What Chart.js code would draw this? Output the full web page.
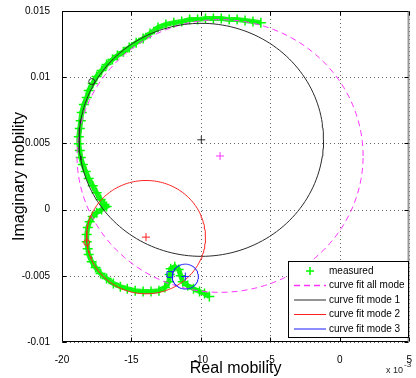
<!DOCTYPE html>
<html>
<head>
<meta charset="utf-8">
<script src="https://cdn.jsdelivr.net/npm/chart.js@4.4.1/dist/chart.umd.min.js"></script>
<style>
  html, body { margin: 0; padding: 0; background: #fff; }
</style>
</head>
<body>
<canvas id="nyquist" width="416" height="378"></canvas>
<script>
// Measured mobility (real / imaginary)
const measuredRe = [
  -0.00568, -0.00625, -0.00682, -0.00739, -0.00796, -0.00853, -0.00910, -0.00967,
  -0.01024, -0.01081, -0.01138, -0.01195, -0.01252, -0.01309, -0.01366, -0.01416,
  -0.01466, -0.01516, -0.01558, -0.01601, -0.01637, -0.01679, -0.01715, -0.01751,
  -0.01779, -0.01808, -0.01822, -0.01843, -0.01858, -0.01865, -0.01872, -0.01879,
  -0.01879, -0.01872, -0.01865, -0.01850, -0.01829, -0.01808, -0.01779, -0.01751,
  -0.01722, -0.01694, -0.01679, -0.01715, -0.01751, -0.01779, -0.01801, -0.01815,
  -0.01822, -0.01822, -0.01815, -0.01808, -0.01786, -0.01758, -0.01722, -0.01679,
  -0.01630, -0.01580, -0.01530, -0.01473, -0.01416, -0.01359, -0.01302, -0.01259,
  -0.01231, -0.01224, -0.01217, -0.01188, -0.01160, -0.01145, -0.01131, -0.01095,
  -0.01053, -0.01010, -0.00974, -0.00939
];
const measuredIm = [
  0.01412, 0.01420, 0.01428, 0.01435, 0.01435, 0.01443, 0.01443, 0.01443,
  0.01435, 0.01435, 0.01420, 0.01412, 0.01398, 0.01375, 0.01330, 0.01292,
  0.01261, 0.01224, 0.01193, 0.01163, 0.01133, 0.01095, 0.01050, 0.01005,
  0.00952, 0.00899, 0.00846, 0.00793, 0.00733, 0.00672, 0.00612, 0.00551,
  0.00498, 0.00446, 0.00393, 0.00340, 0.00287, 0.00234, 0.00181, 0.00128,
  0.00076, 0.00038, 0.00023, 0.00000, -0.00023, -0.00053, -0.00091, -0.00136,
  -0.00189, -0.00242, -0.00295, -0.00340, -0.00393, -0.00438, -0.00483, -0.00521,
  -0.00559, -0.00582, -0.00597, -0.00612, -0.00619, -0.00619, -0.00612, -0.00589,
  -0.00544, -0.00491, -0.00446, -0.00431, -0.00453, -0.00499, -0.00544, -0.00574,
  -0.00597, -0.00619, -0.00634, -0.00657
];

// Circle fits: centre and radius of each fitted modal circle
const fitNames = ['curve fit all mode', 'curve fit mode 1', 'curve fit mode 2', 'curve fit mode 3'];
const fitColors = ['#ff33ff', '#2a2a2a', '#ff2020', '#1a1aff'];
const fitCenterRe = [-0.00862, -0.00997, -0.01395, -0.01112];
const fitCenterIm = [0.00405, 0.00527, -0.00208, -0.00506];
const fitRadius = [0.0103, 0.0088, 0.00428, 0.00094];

// Extra single markers
const markRe = [-0.01786, -0.01822, -0.01224];
const markIm = [0.00967, -0.00249, -0.00490];
const markColors = ['#2a2a2a', '#ff2020', '#1a1aff'];
const markStyles = ['circle', 'circle', 'rect'];

// Axis ticks
const xTicks = [-0.020, -0.015, -0.010, -0.005, 0, 0.005];
const yTicks = [-0.010, -0.005, 0, 0.005, 0.010, 0.015];

const legendNames = ['measured'].concat(fitNames);
const FONT = '"Liberation Sans", Arial, sans-serif';

function circlePoints(cx, cy, r) {
  const pts = [];
  for (let a = 0; a <= 360; a += 2) {
    const t = a * Math.PI / 180;
    pts.push({ x: cx + r * Math.cos(t), y: cy + r * Math.sin(t) });
  }
  return pts;
}

const datasets = [];

datasets.push({
  label: 'measured',
  data: measuredRe.map((v, i) => ({ x: v, y: measuredIm[i] })),
  showLine: true,
  borderColor: '#22f022',
  borderWidth: 5,
  pointStyle: 'cross',
  pointRadius: 5,
  pointBorderWidth: 1.5,
  pointBorderColor: '#00ff00',
  order: 20
});

fitNames.forEach((name, i) => {
  datasets.push({
    label: name,
    data: circlePoints(fitCenterRe[i], fitCenterIm[i], fitRadius[i]),
    showLine: true,
    borderColor: fitColors[i],
    borderWidth: 1,
    borderDash: i === 0 ? [6, 4] : [],
    pointRadius: 0,
    order: 10 - i
  });
  // centre marker
  datasets.push({
    label: name + ' centre',
    data: [{ x: fitCenterRe[i], y: fitCenterIm[i] }],
    pointStyle: 'cross',
    pointRadius: 4,
    pointBorderWidth: 1,
    pointBorderColor: fitColors[i],
    order: 1
  });
});

markRe.forEach((v, i) => {
  datasets.push({
    label: 'marker ' + i,
    data: [{ x: v, y: markIm[i] }],
    pointStyle: markStyles[i],
    pointRadius: markStyles[i] === 'rect' ? 4 : 3,
    pointBorderWidth: 1,
    pointBorderColor: markColors[i],
    pointBackgroundColor: 'rgba(0,0,0,0)',
    order: 0
  });
});

// grid, box, legend and axis titles in the MATLAB look
const matlabFrame = {
  id: 'matlabFrame',
  beforeDatasetsDraw(chart) {
    const { ctx, chartArea: a, scales: { x, y } } = chart;
    ctx.save();
    ctx.strokeStyle = '#666';
    ctx.lineWidth = 1;
    ctx.setLineDash([1, 3]);
    xTicks.forEach(v => {
      const px = Math.round(x.getPixelForValue(v)) + 0.5;
      ctx.beginPath(); ctx.moveTo(px, a.top); ctx.lineTo(px, a.bottom); ctx.stroke();
    });
    yTicks.forEach(v => {
      const py = Math.round(y.getPixelForValue(v)) + 0.5;
      ctx.beginPath(); ctx.moveTo(a.left, py); ctx.lineTo(a.right, py); ctx.stroke();
    });
    ctx.restore();
  },
  afterDraw(chart) {
    const { ctx, chartArea: a, scales: { x, y } } = chart;
    ctx.save();
    // box
    ctx.strokeStyle = '#000';
    ctx.lineWidth = 1;
    const L = Math.round(a.left) + 0.5, T = Math.round(a.top) + 0.5;
    const R = Math.round(a.right) - 0.5, B = Math.round(a.bottom) - 0.5;
    ctx.beginPath();
    ctx.moveTo(R, T); ctx.lineTo(L, T); ctx.lineTo(L, B); ctx.lineTo(R, B);
    ctx.stroke();
    ctx.strokeStyle = '#999';
    ctx.lineWidth = 2;
    ctx.beginPath(); ctx.moveTo(R, T); ctx.lineTo(R, B); ctx.stroke();
    // inner tick marks
    ctx.strokeStyle = '#000';
    ctx.lineWidth = 1;
    xTicks.forEach(v => {
      const px = Math.round(x.getPixelForValue(v)) + 0.5;
      ctx.beginPath(); ctx.moveTo(px, B); ctx.lineTo(px, B - 4); ctx.stroke();
      ctx.beginPath(); ctx.moveTo(px, T); ctx.lineTo(px, T + 4); ctx.stroke();
    });
    yTicks.forEach(v => {
      const py = Math.round(y.getPixelForValue(v)) + 0.5;
      ctx.beginPath(); ctx.moveTo(L, py); ctx.lineTo(L + 4, py); ctx.stroke();
      ctx.beginPath(); ctx.moveTo(R, py); ctx.lineTo(R - 4, py); ctx.stroke();
    });

    // legend
    const lx = 288.5, ly = 261.5, lw = 120, lh = 76;
    ctx.fillStyle = '#fff';
    ctx.fillRect(lx, ly, lw, lh);
    ctx.strokeStyle = '#000';
    ctx.strokeRect(lx, ly, lw, lh);
    ctx.font = '10px ' + FONT;
    ctx.textBaseline = 'middle';
    legendNames.forEach((name, i) => {
      const ey = 271 + i * 14.5;
      if (i === 0) {
        ctx.strokeStyle = '#00ff00';
        ctx.lineWidth = 1.5;
        ctx.beginPath();
        ctx.moveTo(306, ey); ctx.lineTo(314, ey);
        ctx.moveTo(310, ey - 4); ctx.lineTo(310, ey + 4);
        ctx.stroke();
      } else {
        ctx.strokeStyle = fitColors[i - 1];
        ctx.lineWidth = i === 1 ? 1.5 : 1;
        ctx.setLineDash(i === 1 ? [6, 4] : []);
        ctx.beginPath(); ctx.moveTo(294, ey); ctx.lineTo(326, ey); ctx.stroke();
        ctx.setLineDash([]);
      }
      ctx.fillStyle = '#000';
      ctx.textAlign = 'left';
      ctx.fillText(name, 329, ey);
    });

    // axis titles
    ctx.fillStyle = '#000';
    ctx.font = '16px ' + FONT;
    ctx.textAlign = 'center';
    ctx.textBaseline = 'alphabetic';
    ctx.fillText('Real mobility', (a.left + a.right) / 2, 373);
    ctx.save();
    ctx.translate(24, (a.top + a.bottom) / 2);
    ctx.rotate(-Math.PI / 2);
    ctx.fillText('Imaginary mobility', 0, 0);
    ctx.restore();

    // exponent label
    ctx.font = '9px ' + FONT;
    ctx.textAlign = 'left';
    ctx.fillStyle = '#222';
    ctx.fillText('x 10', 386, 373);
    ctx.font = '8px ' + FONT;
    ctx.fillText('-3', 404, 367);
    ctx.restore();
  }
};

new Chart(document.getElementById('nyquist'), {
  type: 'scatter',
  data: { datasets: datasets },
  options: {
    responsive: false,
    animation: false,
    devicePixelRatio: 1,
    layout: { padding: { left: 0, right: 3, top: 11, bottom: 0 } },
    plugins: { legend: { display: false }, tooltip: { enabled: false } },
    scales: {
      x: {
        type: 'linear',
        min: -0.02,
        max: 0.005,
        afterBuildTicks: s => { s.ticks = xTicks.map(v => ({ value: v })); },
        ticks: {
          callback: v => String(Math.round(v * 1000)),
          font: { family: FONT, size: 10 },
          color: '#000',
          padding: 4,
          maxRotation: 0
        },
        grid: { display: false },
        border: { display: false },
        afterFit: s => { s.height = 36; }
      },
      y: {
        type: 'linear',
        min: -0.01,
        max: 0.015,
        afterBuildTicks: s => { s.ticks = yTicks.map(v => ({ value: v })); },
        ticks: {
          callback: v => String(+v.toFixed(3)),
          font: { family: FONT, size: 10 },
          color: '#000',
          padding: 4
        },
        grid: { display: false },
        border: { display: false },
        afterFit: s => { s.width = 62; }
      }
    }
  },
  plugins: [matlabFrame]
});
</script>
</body>
</html>
